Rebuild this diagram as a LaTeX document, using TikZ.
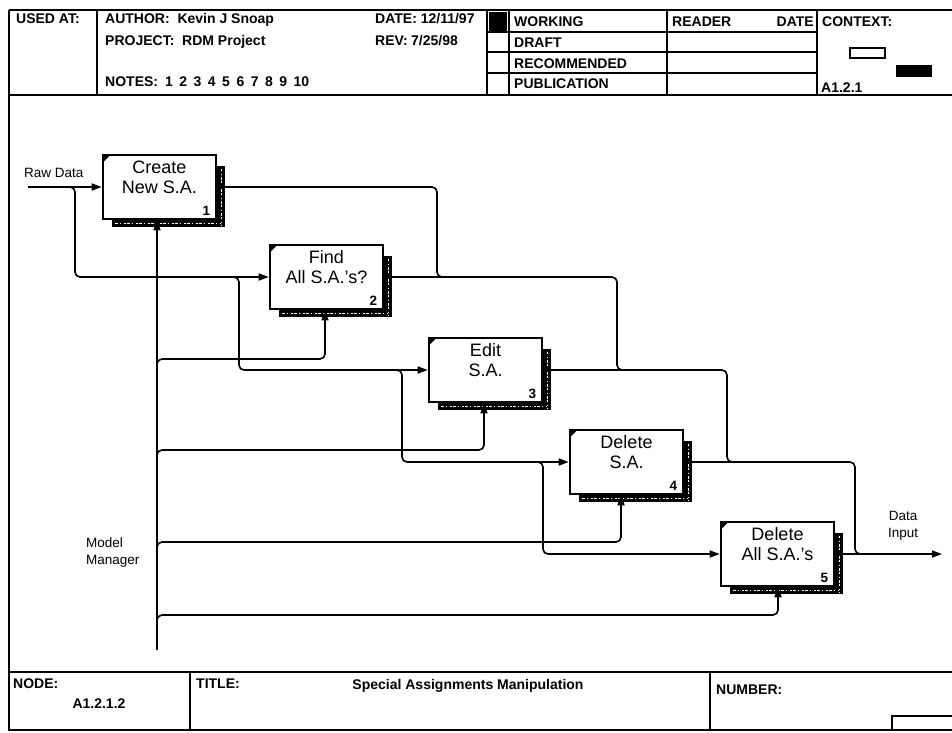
\documentclass[tikz,border=0pt]{standalone}
\usepackage{fontspec}
\setmainfont{Liberation Sans}
\usetikzlibrary{arrows.meta,calc}
\newcommand\myshadow[1]{%
  \fill ($(#1.north east)+(0,12)$) rectangle ($(#1.south east)+(8,7)$);
  \fill ($(#1.south west)+(10,0)$) rectangle ($(#1.south east)+(8,7)$);
  \draw[white, line width=0.7pt, dash pattern=on 2pt off 3pt on 1pt off 2pt on 3pt off 1pt] ($(#1.north east)+(4,15)$) -- ($(#1.south east)+(4,5)$);
  \draw[white, line width=0.7pt, dash pattern=on 3pt off 2pt on 1pt off 3pt on 2pt off 1pt] ($(#1.south west)+(13,3.5)$) -- ($(#1.south east)+(4,3.5)$);
  \fill ($(#1.north west)+(2,2)$) -- ++(6,0) -- ++(-6,6) -- cycle;
}
\begin{document}
\begin{tikzpicture}[x=1pt,y=-1pt,
  frame/.style={line width=1.6pt},
  fbox/.style={draw, line width=2.6pt, minimum width=113pt, minimum height=64pt, inner sep=0pt, fill=white},
  conn/.style={line width=1.6pt, rounded corners=5pt},
  arr/.style={conn, -{Triangle[length=10pt,width=7pt]}},
  hdr/.style={font=\fontsize{14}{16}\selectfont\bfseries, inner sep=0pt, anchor=base west},
  lbl/.style={font=\fontsize{13.5}{16}\selectfont, inner sep=0pt, anchor=base west},
  btext/.style={font=\fontsize{18}{20}\selectfont, align=center, inner sep=0pt},
  bnum/.style={font=\fontsize{13.5}{15}\selectfont\bfseries, inner sep=0pt, anchor=base east},
]
\useasboundingbox (0,0) rectangle (952,732);
\fill[white] (0,0) rectangle (952,732);

% ---------- header ----------
\draw[frame] (9,10) -- (952,10);
\draw[frame] (9,95) -- (952,95);
\draw[frame] (9,10) -- (9,730) -- (952,730);
\draw[frame] (9,672) -- (952,672);
\draw[frame] (97,10) -- (97,95);
\draw[frame] (487,10) -- (487,95);
\draw[frame] (509,10) -- (509,95);
\draw[frame] (667,10) -- (667,95);
\draw[frame] (817,10) -- (817,95);
\draw[frame] (487,32) -- (817,32);
\draw[frame] (487,52) -- (817,52);
\draw[frame] (487,73) -- (817,73);
\fill (489,12) rectangle (507,31);
\draw[line width=1.2pt] (850,48) rectangle (885,58);
\fill (896,65) rectangle (932,77);

\node[hdr] (usedat) at (16,23) {USED AT:};
\node[hdr] (author) at (105,23) {AUTHOR:\ \ Kevin J Snoap};
\node[hdr] (project) at (105,45) {PROJECT:\ \ RDM Project};
\node[hdr] (notes) at (105,86) {NOTES:\hspace{7pt}1\hspace{6.5pt}2\hspace{6.5pt}3\hspace{6.5pt}4\hspace{6.5pt}5\hspace{6.5pt}6\hspace{6.5pt}7\hspace{6.5pt}8\hspace{6.5pt}9\hspace{6.5pt}10};
\node[hdr] (date) at (375,23) {DATE: 12/11/97};
\node[hdr] (rev) at (375,45) {REV:};
\node[hdr] (revv) at (411,45) {7/25/98};
\node[hdr] (working) at (514,26) {WORKING};
\node[hdr] (draft) at (514,47) {DRAFT};
\node[hdr] (recom) at (514,68) {RECOMMENDED};
\node[hdr] (publ) at (514,88) {PUBLICATION};
\node[hdr] (reader) at (672,26) {READER};
\node[hdr, anchor=base east] (rdate) at (814,26) {DATE};
\node[hdr] (context) at (822,26) {CONTEXT:};
\node[hdr] (ctxid) at (821,92) {A1.2.1};

% ---------- footer ----------
\draw[frame] (190,672) -- (190,730);
\draw[frame] (710,672) -- (710,730);
\draw[frame] (892,731) -- (892,716) -- (952,716);
\node[hdr] (nodel) at (13,688) {NODE:};
\node[hdr, anchor=base] (nodeid) at (99,708) {A1.2.1.2};
\node[hdr] (titlel) at (196,688) {TITLE:};
\node[hdr, anchor=base] (title) at (468,689) {Special Assignments Manipulation};
\node[hdr] (numberl) at (716,694) {NUMBER:};

% ---------- activity boxes ----------
\node[fbox] (b1) at (159.5,187) {};
\node[fbox] (b2) at (326.5,277) {};
\node[fbox] (b3) at (485.5,370) {};
\node[fbox] (b4) at (626.5,462) {};
\node[fbox] (b5) at (777.5,554) {};
\myshadow{b1}\myshadow{b2}\myshadow{b3}\myshadow{b4}\myshadow{b5}

\node[btext] (t1) at ($(b1.center)+(0,-10)$) {Create\\New S.A.};
\node[btext] (t2) at ($(b2.center)+(0,-10)$) {Find\\All S.A.'s?};
\node[btext] (t3) at ($(b3.center)+(0,-10)$) {Edit\\S.A.};
\node[btext] (t4) at ($(b4.center)+(0,-10)$) {Delete\\S.A.};
\node[btext] (t5) at ($(b5.center)+(0,-10)$) {Delete\\All S.A.'s};
\node[bnum] (n1) at ($(b1.south east)+(-7,-5)$) {1};
\node[bnum] (n2) at ($(b2.south east)+(-7,-5)$) {2};
\node[bnum] (n3) at ($(b3.south east)+(-7,-5)$) {3};
\node[bnum] (n4) at ($(b4.south east)+(-7,-5)$) {4};
\node[bnum] (n5) at ($(b5.south east)+(-7,-5)$) {5};

% ---------- labels ----------
\node[lbl] (raw) at (24,177) {Raw Data};
\node[lbl] (mm1) at (86,547) {Model};
\node[lbl] (mm2) at (86,564) {Manager};
\node[lbl, anchor=base] (di1) at (903,520) {Data};
\node[lbl, anchor=base] (di2) at (903,537) {Input};

% ---------- inputs ----------
\coordinate (rawin) at (28,187);
\draw[arr] (rawin) -- (b1.west);
\coordinate (ja) at (65,187);
\draw[arr] (ja) -- ++(10,0) |- (b2.west);
\coordinate (jb) at (229,277);
\draw[arr] (jb) -- ++(10,0) |- (b3.west);
\coordinate (jc) at (392,370);
\draw[arr] (jc) -- ++(10,0) |- (b4.west);
\coordinate (jd) at (533,462);
\draw[arr] (jd) -- ++(10,0) |- (b5.west);

% ---------- mechanisms ----------
\coordinate (mm) at (157,650);
\draw[arr] (mm) -- (mm |- b1.south);
\coordinate (m2) at (157,370);
\draw[arr] (m2) -- ++(0,-11) -| ($(b2.south)+(-1.5,0)$);
\coordinate (m3) at (157,461);
\draw[arr] (m3) -- ++(0,-11) -| ($(b3.south)+(-1.5,0)$);
\coordinate (m4) at (157,553);
\draw[arr] (m4) -- ++(0,-11) -| ($(b4.south)+(-5.5,0)$);
\coordinate (m5) at (157,626);
\draw[arr] (m5) -- ++(0,-11) -| ($(b5.south)+(0.5,0)$);

% ---------- outputs ----------
\coordinate (o1) at (437,277); \coordinate (o1e) at (447,277);
\draw[conn] (b1.east) -| (o1) -- (o1e);
\coordinate (o2) at (617,370); \coordinate (o2e) at (627,370);
\draw[conn] (b2.east) -| (o2) -- (o2e);
\coordinate (o3) at (727,462); \coordinate (o3e) at (737,462);
\draw[conn] (b3.east) -| (o3) -- (o3e);
\coordinate (o4) at (855,554); \coordinate (o4e) at (865,554);
\draw[conn] (b4.east) -| (o4) -- (o4e);
\coordinate (dout) at (942,554);
\draw[arr] (b5.east) -- (dout);
\end{tikzpicture}
\end{document}
